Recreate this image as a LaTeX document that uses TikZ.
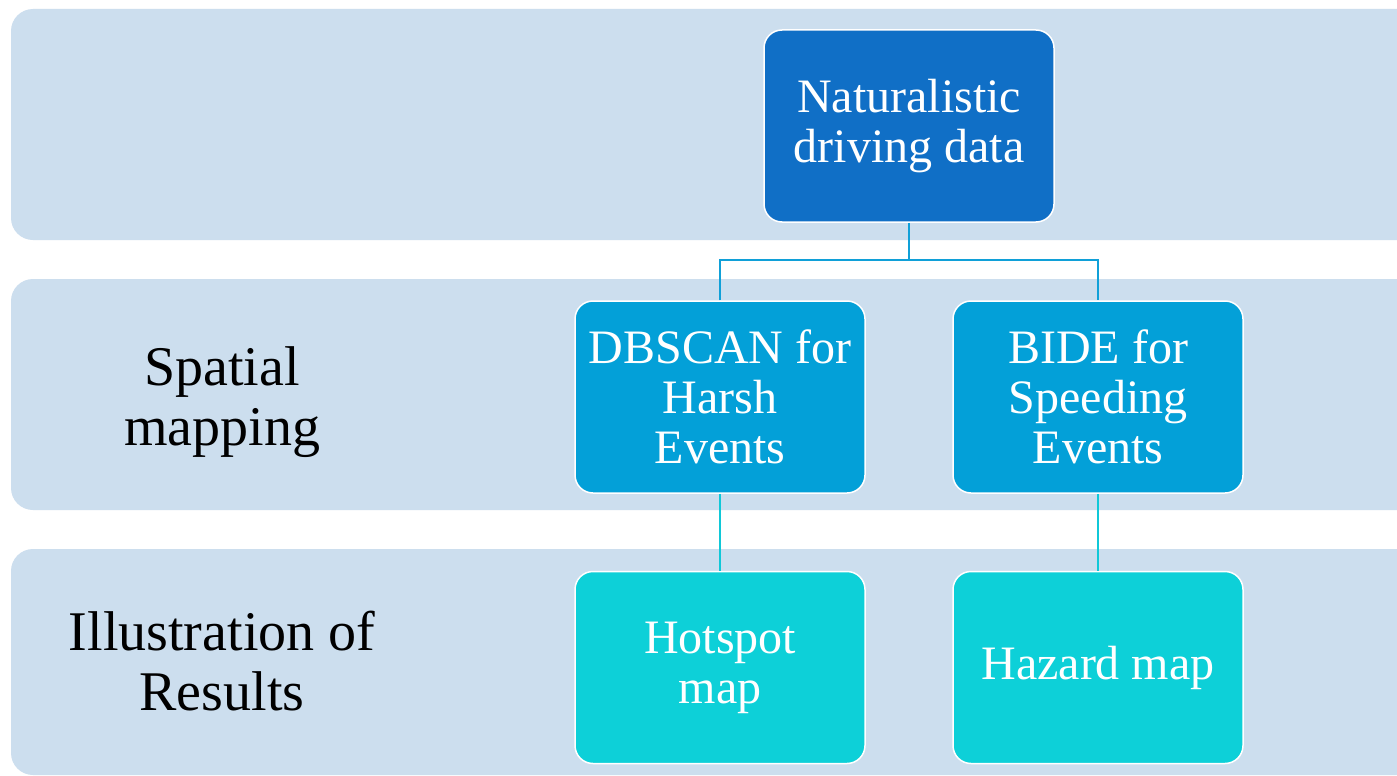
\documentclass[tikz,border=0pt]{standalone}
\usepackage{fontspec}
\setmainfont{Liberation Serif}
\definecolor{bandc}{HTML}{CCDEEE}
\definecolor{topc}{HTML}{106FC6}
\definecolor{midc}{HTML}{03A0D8}
\definecolor{lowc}{HTML}{0DD0D8}
\definecolor{linemid}{HTML}{10A0D8}
\definecolor{linelow}{HTML}{10C8D8}
\tikzset{
  band/.style={fill=bandc, draw=none, rounded corners=22pt},
  boxbase/.style={draw=white, line width=1.5pt, rounded corners=18pt, minimum width=290pt, minimum height=192pt, text=white, align=center, font=\fontsize{48}{50}\selectfont, inner sep=0pt},
  topbox/.style={boxbase, fill=topc},
  midbox/.style={boxbase, fill=midc},
  lowbox/.style={boxbase, fill=lowc},
  lbl/.style={text=black, align=center, font=\fontsize{56}{60}\selectfont},
  conmid/.style={draw=linemid, line width=2pt},
  conlow/.style={draw=linelow, line width=2pt}
}
\begin{document}
\begin{tikzpicture}[x=1pt,y=-1pt]
\useasboundingbox (0,0) rectangle (1397,776);
\fill[white] (0,0) rectangle (1397,776);
\fill[band] (11,9) rectangle (1430,240);
\fill[band] (11,279) rectangle (1430,510);
\fill[band] (11,549) rectangle (1430,775);
\node[lbl] (l1) at (222,402) {Spatial\\mapping};
\node[lbl] (l2) at (222,661) {Illustration of\\Results};
\node[topbox] (nd) at (909,126) {Naturalistic\\driving data};
\node[midbox] (db) at (720,397) {DBSCAN for\\Harsh\\Events};
\node[midbox] (bi) at (1098,397) {BIDE for\\Speeding\\Events};
\node[lowbox] (hs) at (720,667.5) {Hotspot\\map};
\node[lowbox] (hz) at (1098,667.5) {Hazard map};
\coordinate (j) at (909,260);
\draw[conmid] (nd.south) -- (j);
\draw[conmid] (db.north) |- (j) -| (bi.north);
\draw[conlow] (db.south) -- (hs.north);
\draw[conlow] (bi.south) -- (hz.north);
\end{tikzpicture}
\end{document}
